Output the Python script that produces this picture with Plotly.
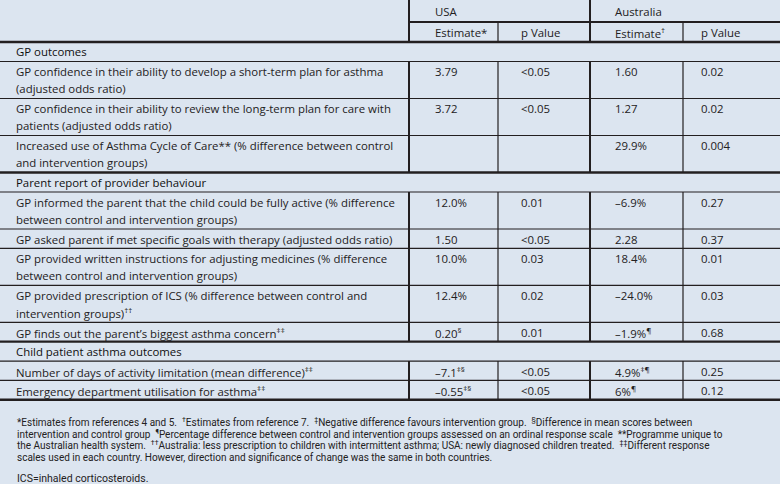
import plotly.graph_objects as go

# ---------------- data ----------------
column_groups = ["USA", "Australia"]
column_heads = ["Estimate*", "p Value", "Estimate<sup>†</sup>", "p Value"]
section_titles = ["GP outcomes", "Parent report of provider behaviour", "Child patient asthma outcomes"]
row_section = [0, 0, 0, 1, 1, 1, 1, 1, 2, 2]
row_labels = [
    "GP confidence in their ability to develop a short-term plan for asthma|(adjusted odds ratio)",
    "GP confidence in their ability to review the long-term plan for care with|patients (adjusted odds ratio)",
    "Increased use of Asthma Cycle of Care** (% difference between control|and intervention groups)",
    "GP informed the parent that the child could be fully active (% difference|between control and intervention groups)",
    "GP asked parent if met specific goals with therapy (adjusted odds ratio)",
    "GP provided written instructions for adjusting medicines (% difference|between control and intervention groups)",
    "GP provided prescription of ICS (% difference between control and|intervention groups)<sup>††</sup>",
    "GP finds out the parent’s biggest asthma concern<sup>‡‡</sup>",
    "Number of days of activity limitation (mean difference)<sup>‡‡</sup>",
    "Emergency department utilisation for asthma<sup>‡‡</sup>",
]
usa_estimate = ["3.79", "3.72", "", "12.0%", "1.50", "10.0%", "12.4%",
                "0.20<sup>§</sup>", "–7.1<sup>‡§</sup>", "–0.55<sup>‡§</sup>"]
usa_p = ["&lt;0.05", "&lt;0.05", "", "0.01", "&lt;0.05", "0.03", "0.02", "0.01", "&lt;0.05", "&lt;0.05"]
aus_estimate = ["1.60", "1.27", "29.9%", "–6.9%", "2.28", "18.4%", "–24.0%",
                "–1.9%<sup>¶</sup>", "4.9%<sup>‡¶</sup>", "6%<sup>¶</sup>"]
aus_p = ["0.02", "0.02", "0.004", "0.27", "0.37", "0.01", "0.03", "0.68", "0.25", "0.12"]

S = "\u00a0\u00a0"
footnote_lines = [
    "*Estimates from references 4 and 5." + S + "<sup>†</sup>Estimates from reference 7." + S
    + "<sup>‡</sup>Negative difference favours intervention group." + S
    + "<sup>§</sup>Difference in mean scores between",
    "intervention and control group" + S
    + "<sup>¶</sup>Percentage difference between control and intervention groups assessed on an ordinal response scale"
    + S + "**Programme unique to",
    "the Australian health system." + S
    + "<sup>††</sup>Australia: less prescription to children with intermittent asthma; USA: newly diagnosed children treated."
    + S + "<sup>‡‡</sup>Different response",
    "scales used in each country. However, direction and significance of change was the same in both countries.",
]
abbreviation_note = "ICS=inhaled corticosteroids."

# ---------------- style / geometry ----------------
W, H = 780, 484
BG = "#dce5f0"
INK = "#231f20"
TXT = "#232122"
FONT = "Open Sans"
FS = 11.4
FOOT_FONT = "Roboto"
FOOT_FS = 10
col_text_x = [433, 519, 613, 699]
thick_v = [409, 590]
thin_v = [498, 683]
label_x = 14
header_mid = 22
header_bottom = 42
sec_h = 19.5
line1_h = 19.3
line2_h = 37.0

fig = go.Figure()
fig.add_trace(go.Scatter(x=[0, W], y=[0, H], mode="markers", marker=dict(opacity=0),
                         hoverinfo="skip", showlegend=False))

ann = []
shapes = []

def text(x, y, t, size=FS, color=TXT, family=FONT):
    ann.append(dict(x=x, y=y, xref="x", yref="y", text=t, showarrow=False,
                    xanchor="left", yanchor="middle",
                    font=dict(family=family, size=size, color=color)))

def hline(y, x0, x1, w):
    shapes.append(dict(type="line", xref="x", yref="y", x0=x0, x1=x1, y0=y, y1=y,
                       line=dict(color=INK, width=w)))

def vline(x, y0, y1, w):
    shapes.append(dict(type="line", xref="x", yref="y", x0=x, x1=x, y0=y0, y1=y1,
                       line=dict(color=INK, width=w)))

# header
text(col_text_x[0], 11.5, column_groups[0])
text(col_text_x[2], 11.5, column_groups[1])
for i, h in enumerate(column_heads):
    text(col_text_x[i], 32, h)
hline(header_mid, thick_v[0], W, 2)
hline(header_bottom, 0, W, 2.4)
for x in thick_v:
    vline(x, 0, header_bottom, 2)
for x in thin_v:
    vline(x, header_mid, header_bottom, 1.2)

y = header_bottom
prev_sec = None
for i, lab in enumerate(row_labels):
    if row_section[i] != prev_sec:
        if prev_sec is not None:
            hline(y, 0, W, 2.4)
        prev_sec = row_section[i]
        text(label_x, y + 9.8, section_titles[prev_sec], color="#0f0f0f")
        y += sec_h
        hline(y, 0, W, 1.2)
    lines = lab.split("|")
    h = line2_h if len(lines) > 1 else line1_h
    for k, ln in enumerate(lines):
        text(label_x, y + 10 + 17 * k, ln)
    vals = [usa_estimate[i], usa_p[i], aus_estimate[i], aus_p[i]]
    for c, v in enumerate(vals):
        if v:
            text(col_text_x[c], y + 10, v)
    for x in thick_v:
        vline(x, y, y + h, 2)
    for x in thin_v:
        vline(x, y, y + h, 1.2)
    y += h
    if i < len(row_labels) - 1 and row_section[i + 1] == row_section[i]:
        hline(y, 0, W, 1.2)
hline(y, 0, W, 2.4)

# footnotes
fy = y + 22
for ln in footnote_lines:
    text(label_x + 1, fy, ln, size=FOOT_FS, family=FOOT_FONT)
    fy += 11.8
text(label_x + 1, 478.5, abbreviation_note, size=FOOT_FS + 0.5, family=FOOT_FONT)

fig.update_layout(
    width=W, height=H, margin=dict(l=0, r=0, t=0, b=0),
    paper_bgcolor=BG, plot_bgcolor=BG,
    xaxis=dict(range=[0, W], visible=False, fixedrange=True),
    yaxis=dict(range=[H, 0], visible=False, fixedrange=True),
    annotations=ann, shapes=shapes, showlegend=False,
)
fig.write_html(
    "out.html",
    config={"displayModeBar": False},
    post_script="document.body.style.margin='0';document.body.style.overflow='hidden';",
)
